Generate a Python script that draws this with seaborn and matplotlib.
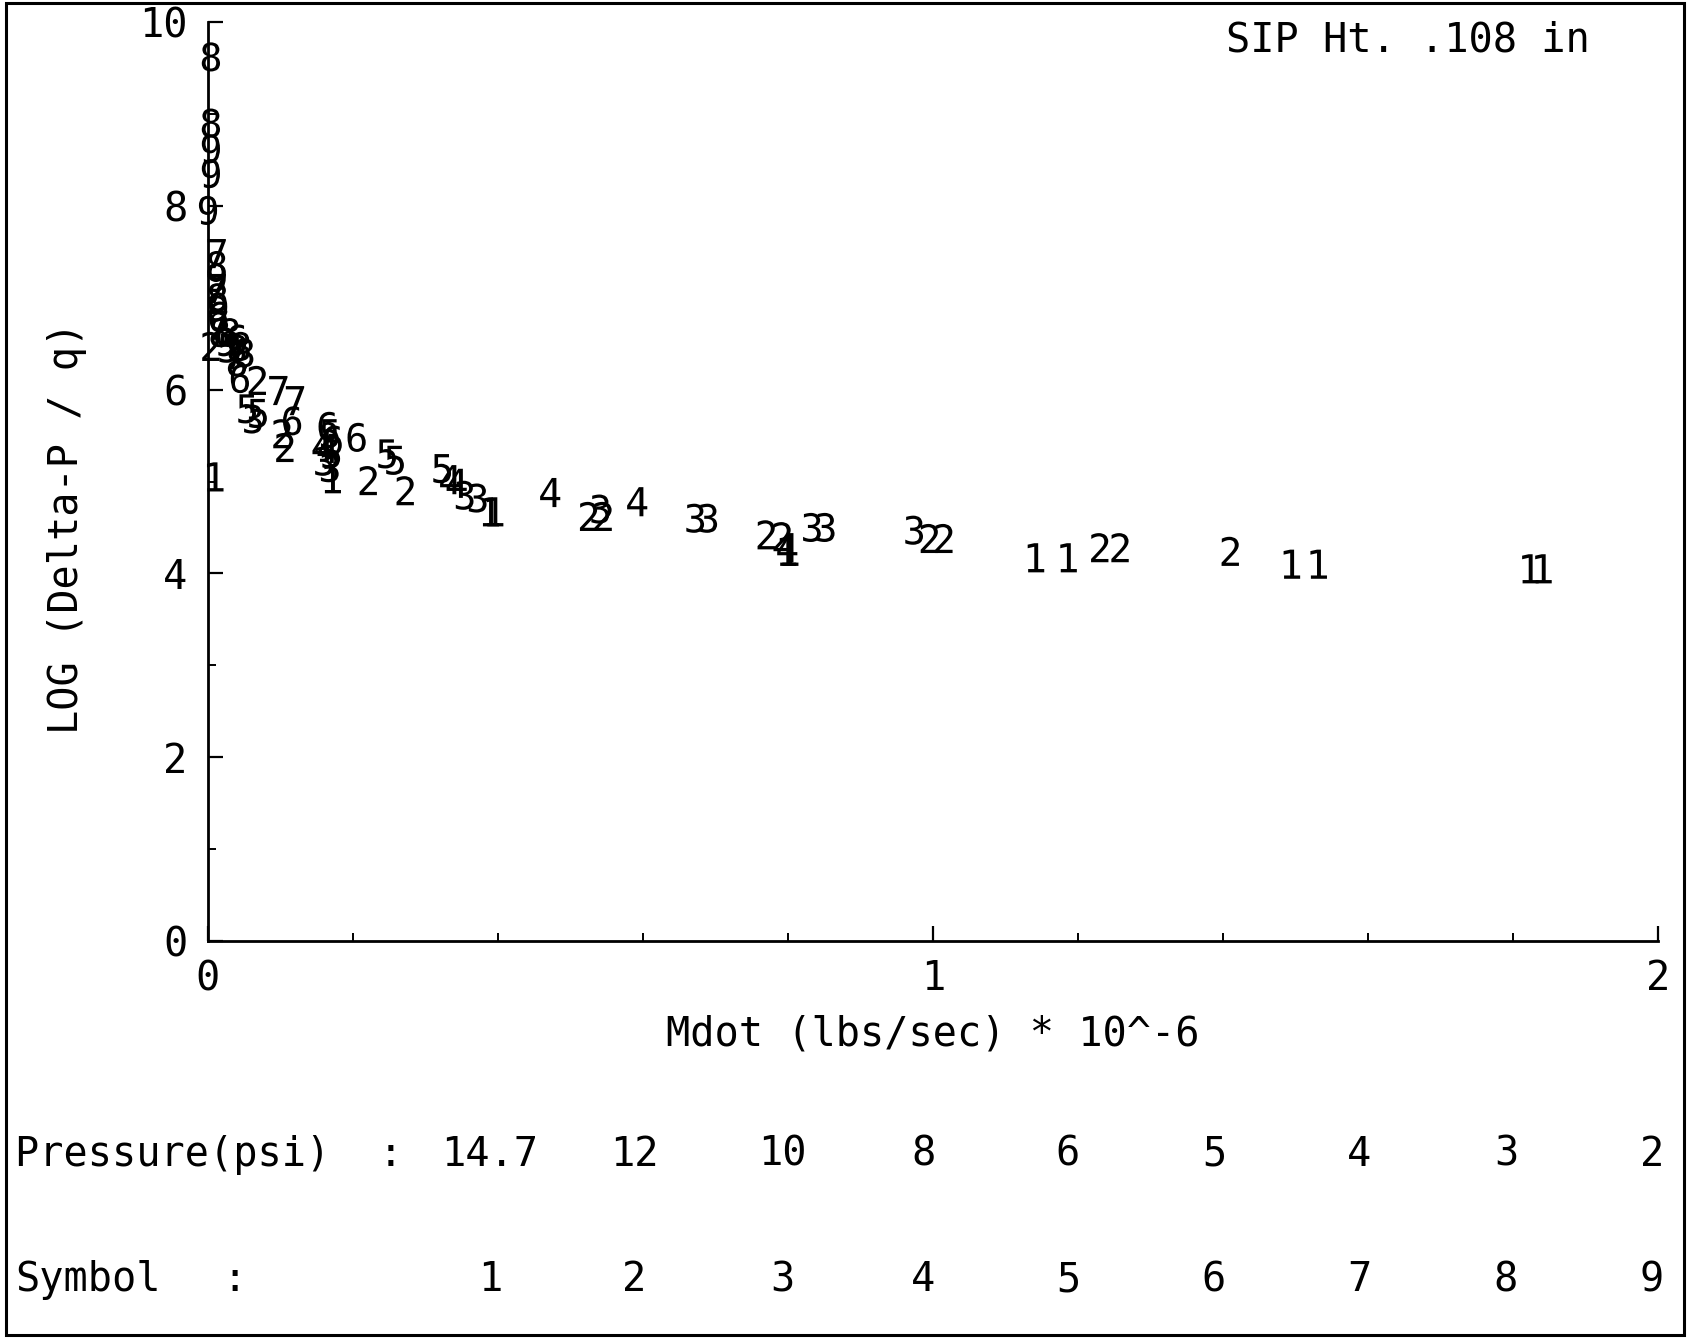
import matplotlib
matplotlib.use("Agg")
import matplotlib.pyplot as plt
import numpy as np
import pandas as pd
import seaborn as sns
from matplotlib.patches import Rectangle
from matplotlib.ticker import MultipleLocator, FuncFormatter

# Flow rate (lbs/sec * 1e-6), log pressure-drop ratio, and plotting symbol
mdot = [
    0.004, 0.004, 0.004, 0.004, 0.000,
    0.012, 0.012, 0.012, 0.012, 0.013, 0.014, 0.014, 0.014, 0.016, 0.004,
    0.030, 0.040, 0.045, 0.028, 0.037, 0.050, 0.024, 0.040,
    0.044, 0.068, 0.097, 0.120, 0.054, 0.069, 0.062, 0.116, 0.102, 0.106,
    0.010,
    0.165, 0.168, 0.172, 0.158, 0.165, 0.170, 0.160, 0.168, 0.172, 0.205,
    0.221, 0.247, 0.258, 0.272, 0.323, 0.334, 0.343, 0.354, 0.372, 0.390, 0.396,
    0.472, 0.525, 0.541, 0.545, 0.592, 0.672, 0.690,
    0.770, 0.792, 0.799, 0.800, 0.803, 0.833, 0.852,
    0.974, 0.995, 1.015, 1.142, 1.187, 1.230, 1.258, 1.410,
    1.495, 1.532, 1.824, 1.842,
]
log_dp_q = [
    9.62, 8.90, 8.62, 8.35, 7.95,
    7.48, 7.35, 7.22, 7.10, 7.00, 6.90, 6.80, 6.70, 6.62, 6.47,
    6.62, 6.55, 6.47, 6.45, 6.38, 6.40, 6.52, 6.30,
    6.12, 6.10, 5.99, 5.88, 5.79, 5.74, 5.68, 5.66, 5.52, 5.37,
    5.05,
    5.60, 5.52, 5.45, 5.38, 5.36, 5.30, 5.22, 5.15, 5.03, 5.48,
    5.01, 5.30, 5.23, 4.90, 5.14, 5.02, 4.98, 4.85, 4.82, 4.67, 4.67,
    4.88, 4.62, 4.70, 4.62, 4.78, 4.60, 4.60,
    4.42, 4.40, 4.28, 4.24, 4.24, 4.50, 4.50,
    4.47, 4.38, 4.38, 4.17, 4.17, 4.28, 4.28, 4.24,
    4.10, 4.10, 4.05, 4.05,
]
symbol = [
    "8", "8", "9", "9", "9",
    "7", "8", "9", "7", "8", "9", "6", "7", "8", "2",
    "8", "6", "8", "5", "7", "8", "9", "8",
    "6", "2", "7", "7", "5", "5", "3", "6", "2", "2",
    "1",
    "6", "5", "6", "4", "4", "5", "3", "3", "1", "6",
    "2", "5", "5", "2", "5", "4", "4", "3", "3", "1", "1",
    "4", "2", "3", "2", "4", "3", "3",
    "2", "2", "4", "1", "1", "3", "3",
    "3", "2", "2", "1", "1", "2", "2", "2",
    "1", "1", "1", "1",
]

pressures = ["14.7", "12", "10", "8", "6", "5", "4", "3", "2"]
symbols = ["1", "2", "3", "4", "5", "6", "7", "8", "9"]

sns.set_theme(style="ticks")
plt.rcParams["font.family"] = ["DejaVu Sans Mono", "DejaVu Sans"]
plt.rcParams["mathtext.fontset"] = "dejavusans"

FS = 29
W, H = 1687, 1338
fig = plt.figure(figsize=(W / 100, H / 100), dpi=100)
fig.patch.set_facecolor("white")

# axes frame: x from 0 to 2, y from 0 to 10
x0, x1 = 208, 1658
y0, y1 = 941, 22
ax = fig.add_axes([x0 / W, 1 - y0 / H, (x1 - x0) / W, (y0 - y1) / H])
ax.set_facecolor("white")

df = pd.DataFrame({"mdot": mdot, "logdpq": log_dp_q, "sym": symbol})
marker_map = {s: f"$\\mathtt{{{s}}}$" for s in symbols}
sns.scatterplot(
    data=df, x="mdot", y="logdpq", style="sym", style_order=symbols,
    markers=marker_map, s=440, color="black", linewidth=0,
    legend=False, ax=ax, clip_on=False, zorder=3,
)

ax.set_xlim(0, 2)
ax.set_ylim(0, 10)
for side in ("top", "right"):
    ax.spines[side].set_visible(False)
for side in ("left", "bottom"):
    ax.spines[side].set_color("black")
    ax.spines[side].set_linewidth(2.0)

ax.xaxis.set_major_locator(MultipleLocator(1))
ax.xaxis.set_minor_locator(MultipleLocator(0.2))
ax.yaxis.set_major_locator(MultipleLocator(2))
ax.yaxis.set_minor_locator(MultipleLocator(1))
ax.xaxis.set_major_formatter(FuncFormatter(lambda v, p: f"{int(round(v))}"))
ax.yaxis.set_major_formatter(FuncFormatter(lambda v, p: f"{int(round(v))}"))

ax.tick_params(which="major", direction="in", length=11, width=1.6,
               colors="black", labelsize=FS)
ax.tick_params(which="minor", direction="in", length=6, width=1.4,
               colors="black")
ax.tick_params(axis="y", which="major", pad=15)
ax.tick_params(axis="x", which="major", pad=13)

ax.set_xlabel("Mdot (lbs/sec) * 10^-6", fontsize=FS, color="black")
ax.xaxis.set_label_coords(0.5, -0.102)
ax.xaxis.label.set_va("center")
ax.set_ylabel("LOG (Delta-P / q)", fontsize=FS, color="black")
ax.yaxis.set_label_coords(-0.097, 0.45)
ax.yaxis.label.set_va("center")

fig.text(1408 / W, 1 - 40 / H, "SIP Ht. .108 in", fontsize=FS,
         ha="center", va="center", color="black")

# pressure / symbol key under the plot
col_x = [490, 634, 782, 923, 1068, 1214, 1359, 1506, 1652]
row_p, row_s = 1155, 1280
fig.text(15 / W, 1 - row_p / H, "Pressure(psi)  :", fontsize=FS,
         ha="left", va="center", color="black")
fig.text(15 / W, 1 - row_s / H, "Symbol", fontsize=FS,
         ha="left", va="center", color="black")
fig.text(235 / W, 1 - row_s / H, ":", fontsize=FS,
         ha="center", va="center", color="black")
for cx, p, s in zip(col_x, pressures, symbols):
    fig.text(cx / W, 1 - row_p / H, p, fontsize=FS, ha="center",
             va="center", color="black")
    fig.text(cx / W, 1 - row_s / H, s, fontsize=FS, ha="center",
             va="center", color="black")

# outer border around the sheet
fig.add_artist(Rectangle((6 / W, 3 / H), (W - 9) / W, (H - 6) / H,
                         transform=fig.transFigure, fill=False,
                         edgecolor="black", linewidth=2.2))

fig.savefig("out.png", dpi=100, facecolor="white")
